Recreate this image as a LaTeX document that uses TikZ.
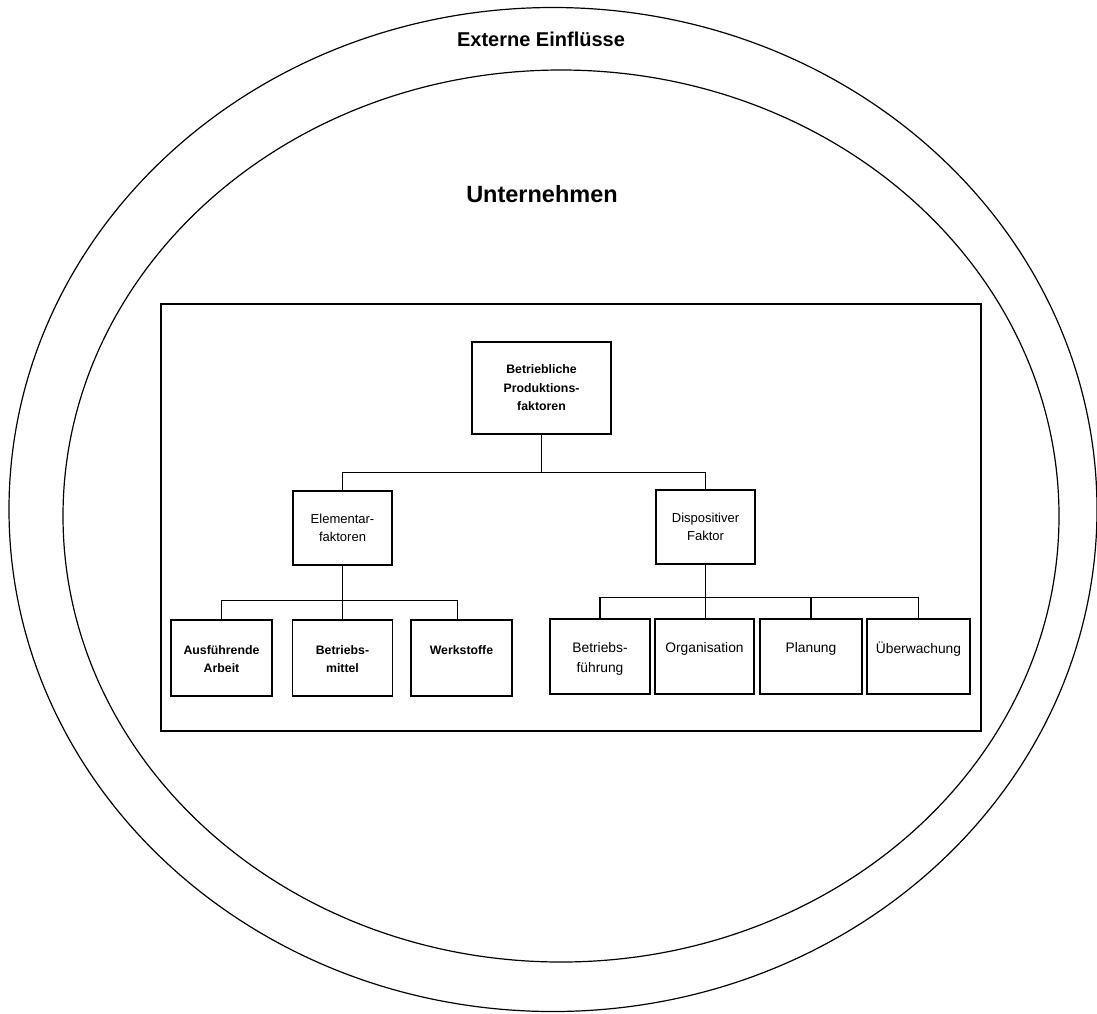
\documentclass[tikz,border=0pt]{standalone}
\usepackage{fontspec}
\setmainfont{Liberation Sans}
\begin{document}
\begin{tikzpicture}[x=1pt,y=-1pt,line width=1.2pt,
  box/.style={draw,line width=1.2pt,inner sep=0pt,minimum width=100pt,minimum height=75pt},
  txt/.style={align=center,font=\fontsize{13}{18.5}\selectfont},
  btxt/.style={align=center,font=\bfseries\fontsize{12.3}{18.5}\selectfont},
  rtxt/.style={align=center,font=\fontsize{13.8}{20}\selectfont},
  conn/.style={draw,line width=1.2pt}]
\useasboundingbox (0,0) rectangle (1097,1013);
% ellipses
\draw (553,509.5) ellipse [x radius=544pt, y radius=502pt];
\draw (561,516) ellipse [x radius=498pt, y radius=446pt];
% titles
\node[font=\bfseries\fontsize{20}{24}\selectfont] (ext) at (541,39) {Externe Einflüsse};
\node[font=\bfseries\fontsize{23.5}{28}\selectfont] (unt) at (542,194) {Unternehmen};
% frame
\node[box,minimum width=820pt,minimum height=427pt] (frame) at (571,517.5) {};
% top
\node[box,minimum width=139pt,minimum height=92pt,btxt] (top) at (541.5,388) {Betriebliche\\Produktions-\\faktoren};
% second level
\node[box,minimum width=99pt,minimum height=74pt,txt] (elem) at (342.5,528) {Elementar-\\faktoren};
\node[box,minimum width=99pt,minimum height=74pt,txt] (disp) at (705.5,527) {Dispositiver\\Faktor};
% left children
\node[box,minimum width=101pt,minimum height=76pt,label={[btxt,anchor=north,yshift=-22pt]north:Ausführende\\Arbeit}] (A) at (221.5,658) {};
\node[box,minimum width=100pt,minimum height=76pt,label={[btxt,anchor=north,yshift=-22pt]north:Betriebs-\\mittel}] (B) at (342.5,658) {};
\node[box,minimum width=101pt,minimum height=76pt,label={[btxt,anchor=north,yshift=-22pt]north:Werkstoffe}] (W) at (461.5,658) {};
% right children
\node[box,minimum width=100pt,minimum height=75pt,label={[rtxt,anchor=north,yshift=-20pt]north:Betriebs-\\führung}] (BF) at (600,656.5) {};
\node[box,minimum width=99pt,minimum height=75pt,label={[rtxt,anchor=north,yshift=-20pt]north:Organisation}] (Org) at (704.5,656.5) {};
\node[box,minimum width=102pt,minimum height=75pt,label={[rtxt,anchor=north,yshift=-20pt]north:Planung}] (Pl) at (811,656.5) {};
\node[box,minimum width=103pt,minimum height=75pt,label={[rtxt,anchor=north,yshift=-20pt]north:Überwachung}] (Ub) at (918.5,656.5) {};
% connectors
\draw[conn] (top.south) -- ++(0,38) coordinate (tb) -| (elem.north);
\draw[conn] (tb) -| (disp.north);
\draw[conn] (elem.south) -- ++(0,35) coordinate (eb) -| (A.north);
\draw[conn] (eb) -| ([xshift=-4pt]W.north);
\draw[conn] (elem.south) -- (B.north);
\draw[conn] (disp.south) -- ++(0,33) coordinate (db) -| (BF.north);
\draw[conn] (db) -| (Ub.north);
\draw[conn] (db) -| (Pl.north);
\draw[conn] (disp.south) -- (disp.south |- Org.north);
\end{tikzpicture}
\end{document}
